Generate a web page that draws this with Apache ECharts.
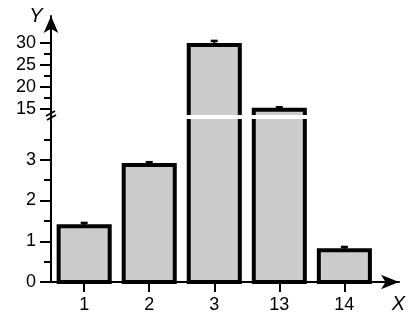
<!DOCTYPE html>
<html>
<head>
<meta charset="utf-8">
<script src="https://cdn.jsdelivr.net/npm/echarts@6/dist/echarts.min.js"></script>
<style>
html,body{margin:0;padding:0;background:#fff;}
#chart{width:418px;height:323px;}
</style>
</head>
<body>
<div id="chart"></div>
<script>
// ---- data ----
const categories = ['1', '2', '3', '13', '14'];
const means = [1.37, 2.87, 29.5, 14.8, 0.78];
const errors = [0.08, 0.07, 0.9, 0.6, 0.08];
const lowMajorTicks = [0, 1, 2, 3];
const lowMinorTicks = [0.5, 1.5, 2.5, 3.5];
const highMajorTicks = [15, 20, 25, 30];
const highMinorTicks = [17.5, 22.5, 27.5];
const xPositions = [1, 2, 3, 4, 5];

const FONT = "'Liberation Sans', Arial, Helvetica, sans-serif";
const BAR_RATIO = 0.785;
const seriesData = categories.map((c, i) => [xPositions[i], means[i], errors[i]]);

function renderBar(params, api) {
  const cs = params.coordSys;
  const xi = api.value(0), v = api.value(1), e = api.value(2);
  const topPt = api.coord([xi, v]);
  const basePt = api.coord([xi, 0]);
  const halfW = api.size([1, 0])[0] * BAR_RATIO / 2;
  const gridTop = cs.y, gridBot = cs.y + cs.height;
  let yTop = topPt[1], yBot = basePt[1];
  if (yTop > gridBot - 0.5) return null;
  const clipTop = yTop < gridTop - 0.5;
  const clipBot = yBot > gridBot + 0.5;
  yTop = Math.max(yTop, gridTop);
  yBot = Math.min(yBot, gridBot);
  const cx = topPt[0];
  const l = cx - halfW, r = cx + halfW;
  const children = [];
  if (!clipTop && e) {
    const ye = api.coord([xi, v + e])[1];
    children.push({type: 'line', shape: {x1: cx, y1: yTop, x2: cx, y2: ye}, style: {stroke: '#000', lineWidth: 2}});
    children.push({type: 'line', shape: {x1: cx - 3.5, y1: ye, x2: cx + 3.5, y2: ye}, style: {stroke: '#000', lineWidth: 2.5}});
  }
  children.push({type: 'rect', shape: {x: l, y: yTop, width: r - l, height: yBot - yTop}, style: {fill: '#cbcccb', stroke: null}});
  const bw = 4;
  if (!clipTop && !clipBot) {
    children.push({type: 'rect', shape: {x: l, y: yTop, width: r - l, height: yBot - yTop}, style: {fill: null, stroke: '#000', lineWidth: bw, lineJoin: 'miter'}});
  } else if (clipTop && !clipBot) {
    children.push({type: 'polyline', shape: {points: [[l, yTop], [l, yBot], [r, yBot], [r, yTop]]}, style: {fill: null, stroke: '#000', lineWidth: bw, lineJoin: 'miter'}});
  } else if (!clipTop && clipBot) {
    children.push({type: 'polyline', shape: {points: [[l, yBot], [l, yTop], [r, yTop], [r, yBot]]}, style: {fill: null, stroke: '#000', lineWidth: bw, lineJoin: 'miter'}});
  } else {
    children.push({type: 'line', shape: {x1: l, y1: yTop, x2: l, y2: yBot}, style: {stroke: '#000', lineWidth: bw}});
    children.push({type: 'line', shape: {x1: r, y1: yTop, x2: r, y2: yBot}, style: {stroke: '#000', lineWidth: bw}});
  }
  return {type: 'group', children: children};
}

const X_MIN = 0.49, X_MAX = 5.84;
const axisLineStyle = {color: '#000', width: 2};
const labelStyle = {color: '#000', fontSize: 18, fontFamily: FONT};

const chart = echarts.init(document.getElementById('chart'), null, {renderer: 'canvas'});
chart.setOption({
  animation: false,
  backgroundColor: '#fff',
  grid: [
    {left: 51, right: 19, top: 119, bottom: 41, containLabel: false},
    {left: 51, right: 19, top: 16, height: 99, containLabel: false}
  ],
  xAxis: [
    {
      type: 'value', gridIndex: 0, min: X_MIN, max: X_MAX,
      splitLine: {show: false},
      axisLine: {show: true, onZero: false, lineStyle: axisLineStyle, symbol: ['none', 'arrow'], symbolSize: [11, 18]},
      axisTick: {show: true, length: 10, lineStyle: {color: '#000', width: 2}, customValues: xPositions},
      axisLabel: Object.assign({margin: 14, customValues: xPositions,
        formatter: function (val) { const i = xPositions.indexOf(Math.round(val)); return i >= 0 ? categories[i] : ''; }}, labelStyle)
    },
    {
      type: 'value', gridIndex: 1, min: X_MIN, max: X_MAX, show: false,
      splitLine: {show: false}
    }
  ],
  yAxis: [
    {
      type: 'value', gridIndex: 0, min: 0, max: 4.0, position: 'left',
      splitLine: {show: false},
      axisLine: {show: true, onZero: false, lineStyle: axisLineStyle},
      axisTick: {show: true, length: 11, lineStyle: {color: '#000', width: 2}, customValues: lowMajorTicks},
      axisLabel: Object.assign({margin: 15, customValues: lowMajorTicks}, labelStyle)
    },
    {
      type: 'value', gridIndex: 0, min: 0, max: 4.0, position: 'left',
      splitLine: {show: false},
      axisLine: {show: false, onZero: false},
      axisTick: {show: true, length: 7, lineStyle: {color: '#000', width: 2}, customValues: lowMinorTicks},
      axisLabel: {show: false}
    },
    {
      type: 'value', gridIndex: 1, min: 13.64, max: 36.04, position: 'left',
      splitLine: {show: false},
      axisLine: {show: true, onZero: false, lineStyle: axisLineStyle, symbol: ['none', 'arrow'], symbolSize: [11, 17]},
      axisTick: {show: true, length: 11, lineStyle: {color: '#000', width: 2}, customValues: highMajorTicks},
      axisLabel: Object.assign({margin: 15, customValues: highMajorTicks}, labelStyle)
    },
    {
      type: 'value', gridIndex: 1, min: 13.64, max: 36.04, position: 'left',
      splitLine: {show: false},
      axisLine: {show: false, onZero: false},
      axisTick: {show: true, length: 7, lineStyle: {color: '#000', width: 2}, customValues: highMinorTicks},
      axisLabel: {show: false}
    }
  ],
  series: [
    {type: 'custom', xAxisIndex: 0, yAxisIndex: 0, renderItem: renderBar, data: seriesData, clip: false, z: 5},
    {type: 'custom', xAxisIndex: 1, yAxisIndex: 2, renderItem: renderBar, data: seriesData, clip: false, z: 5}
  ],
  graphic: [
    {type: 'line', shape: {x1: 51, y1: 113, x2: 51, y2: 121}, style: {stroke: '#000', lineWidth: 2}, z: 10},
    {type: 'line', shape: {x1: 46, y1: 116, x2: 55, y2: 111}, style: {stroke: '#000', lineWidth: 1.8}, z: 10},
    {type: 'line', shape: {x1: 47, y1: 120, x2: 56, y2: 115}, style: {stroke: '#000', lineWidth: 1.8}, z: 10},
    {type: 'text', style: {text: 'Y', x: 36, y: 16.5, align: 'center', verticalAlign: 'middle', fill: '#000', font: 'italic 20px ' + FONT}, z: 10},
    {type: 'text', style: {text: 'X', x: 398.5, y: 304, align: 'center', verticalAlign: 'middle', fill: '#000', font: 'italic 20px ' + FONT}, z: 10}
  ]
});
</script>
</body>
</html>
